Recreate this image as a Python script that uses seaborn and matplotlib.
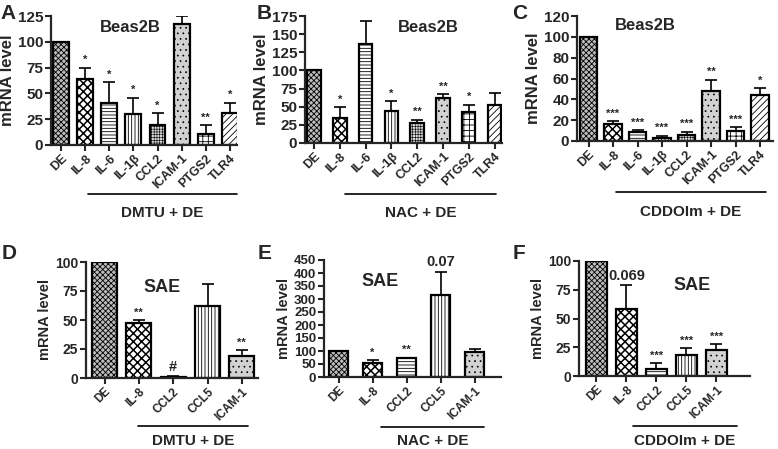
import numpy as np
import seaborn as sns
import matplotlib.pyplot as plt
from matplotlib.lines import Line2D

sns.set_style("ticks")
plt.rcParams['font.family'] = ['Liberation Sans', 'DejaVu Sans']
plt.rcParams['font.weight'] = 'bold'
plt.rcParams['hatch.linewidth'] = 0.6

W, H = 778, 449

# Data
genes_top = ["DE", "IL-8", "IL-6", "IL-1β", "CCL2", "ICAM-1", "PTGS2", "TLR4"]
genes_bot = ["DE", "IL-8", "CCL2", "CCL5", "ICAM-1"]

a_vals = [100, 64, 41, 30, 19, 117, 11, 31]
a_err = [0, 11, 20, 16, 12, 8, 8, 10]
a_sig = ["", "*", "*", "*", "*", "", "**", "*"]

b_vals = [100, 34, 137, 44, 28, 62, 43, 53]
b_err = [0, 15, 31, 14, 4, 5, 10, 16]
b_sig = ["", "*", "", "*", "**", "**", "*", ""]

c_vals = [100, 16, 9, 3, 6, 48, 10, 44]
c_err = [0, 3, 1.5, 2, 3, 11, 3, 7]
c_sig = ["", "***", "***", "***", "***", "**", "***", "*"]

d_vals = [100, 47, 1, 62, 19]
d_err = [0, 3, 0.5, 19, 5]
d_sig = ["", "**", "#", "", "**"]

e_vals = [100, 52, 72, 315, 98]
e_err = [0, 13, 3, 90, 9]
e_sig = ["", "*", "**", "0.07", ""]

f_vals = [100, 58, 6, 18, 23]
f_err = [0, 21, 5, 6, 5]
f_sig = ["", "0.069", "***", "***", "***"]

# fill / hatch / hatch linewidth per bar
style_top = {"DE": ("#bdbdbd", "xxxxxx", 0.6), "IL-8": ("white", "xxxx", 1.1),
             "IL-6": ("white", "-----", 0.6), "IL-1β": ("white", "|||||", 0.6),
             "CCL2": ("#d8d8d8", "++++++", 0.4), "ICAM-1": ("#d2d2d2", "...", 0.5),
             "PTGS2": ("white", "+++", 0.6), "TLR4": ("white", "/////", 0.6)}
style_bot = {"DE": ("#bdbdbd", "xxxxxx", 0.6), "IL-8": ("white", "xxxx", 1.1),
             "CCL2": ("white", "-----", 0.6), "CCL5": ("white", "|||||", 0.6),
             "ICAM-1": ("#d2d2d2", "...", 0.5)}

panels = [
    # letter, genes, vals, err, sig, title, group, box(l, r, bottom, top) px, xlim, ymax, step, bar width,
    # (ylabel, ytick, xtick sizes), title pos, group line
    ("A", genes_top, a_vals, a_err, a_sig, "Beas2B", "DMTU + DE", (51, 237, 145, 16), (-0.41, 7.29), 125, 25, 0.66,
     (12, 11, 9), (130, 28), (88, 237, 194, 213)),
    ("B", genes_top, b_vals, b_err, b_sig, "Beas2B", "NAC + DE", (305, 502, 143, 16), (-0.35, 7.29), 175, 25, 0.52,
     (12, 11, 9), (428, 28), (345, 496, 194, 213)),
    ("C", genes_top, c_vals, c_err, c_sig, "Beas2B", "CDDOIm + DE", (577, 773, 141, 16), (-0.47, 7.53), 120, 20, 0.7,
     (12, 11, 9), (645, 26), (616, 766, 192, 212)),
    ("D", genes_bot, d_vals, d_err, d_sig, "SAE", "DMTU + DE", (86, 258, 378, 262), (-0.54, 4.47), 100, 25, 0.73,
     (10.5, 10, 8.5), (162, 287), (138, 248, 426, 441)),
    ("E", genes_bot, e_vals, e_err, e_sig, "SAE", "NAC + DE", (324, 501, 377, 260), (-0.43, 4.78), 450, 50, 0.58,
     (10.5, 9.5, 8.5), (380, 282), (381, 484, 427, 441)),
    ("F", genes_bot, f_vals, f_err, f_sig, "SAE", "CDDOIm + DE", (579, 750, 376, 261), (-0.58, 5.12), 100, 25, 0.7,
     (10.5, 10, 8.5), (692, 285), (633, 737, 426, 441)),
]
letter_pos = {"A": (0, 4), "B": (257, 4), "C": (512, 4), "D": (2, 244), "E": (258, 244), "F": (513, 244)}

fig = plt.figure(figsize=(W / 100, H / 100), dpi=100)

for (letter, genes, vals, err, sig, title, group, box, xlim, ymax, step, bw, sizes,
     tpos, gline) in panels:
    l, r, b, t = box
    fs_lab, fs_y, fs_x = sizes
    ax = fig.add_axes([l / W, 1 - b / H, (r - l) / W, (b - t) / H])
    sns.barplot(x=genes, y=vals, ax=ax, color="white", edgecolor="black",
                linewidth=1.6, width=bw, errorbar=None)
    styles = style_top if len(genes) == 8 else style_bot
    for patch, g in zip(ax.patches, genes):
        fc, hatch, hlw = styles[g]
        patch.set_facecolor(fc)
        patch.set_hatch(hatch)
        if hasattr(patch, "set_hatch_linewidth"):
            patch.set_hatch_linewidth(hlw)
    x = np.arange(len(genes))
    ax.errorbar(x, vals, yerr=[np.zeros(len(err)), err], fmt="none", ecolor="black",
                elinewidth=1.2, capsize=4, capthick=1.2)
    for xi, v, e, s in zip(x, vals, err, sig):
        if s:
            small = s.startswith("*")
            ax.text(xi, v + e + ymax * 0.02, s, ha="center", va="bottom",
                    fontsize=8 if small else 10.5, fontweight="bold")
    ax.set_xlim(*xlim)
    ax.set_ylim(0, ymax)
    ax.set_yticks(np.arange(0, ymax + 1, step))
    ax.set_ylabel("mRNA level", fontsize=fs_lab, fontweight="bold", labelpad=2)
    ax.tick_params(axis="both", width=1.5, length=4, pad=1.5)
    ax.tick_params(axis="y", labelsize=fs_y)
    ax.set_xticks(x)
    ax.set_xticklabels(genes, rotation=45, ha="right", rotation_mode="anchor",
                       fontsize=fs_x, fontweight="bold")
    for lab in ax.get_yticklabels():
        lab.set_fontweight("bold")
    sns.despine(ax=ax)
    for sp in ("left", "bottom"):
        ax.spines[sp].set_linewidth(1.6)
    fig.text(tpos[0] / W, 1 - tpos[1] / H, title, ha="center", va="center",
             fontsize=12 if len(genes) == 8 else 13, fontweight="bold")
    x0, x1, ly, ty = gline
    fig.add_artist(Line2D([x0 / W, x1 / W], [1 - ly / H, 1 - ly / H], color="black",
                          linewidth=1.2, transform=fig.transFigure))
    fig.text((x0 + x1) / 2 / W, 1 - ty / H, group, ha="center", va="center",
             fontsize=11, fontweight="bold")
    lx, lyy = letter_pos[letter]
    fig.text(lx / W, 1 - lyy / H, letter, ha="left", va="top", fontsize=15, fontweight="bold")

fig.savefig("out.png", dpi=100)
